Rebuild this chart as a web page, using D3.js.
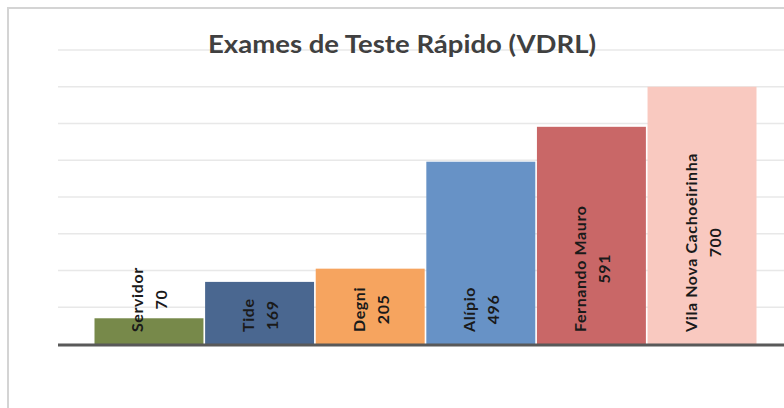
<!DOCTYPE html>
<meta charset="utf-8">
<style>
  body { margin: 0; background: #fff; }
  svg { display: block; }
</style>

<!-- Load d3.js -->
<script src="https://d3js.org/d3.v7.min.js"></script>

<div id="my_dataviz"></div>

<script>

// data
var categories = ["Servidor", "Tide", "Degni", "Alípio", "Fernando Mauro", "Vila Nova Cachoeirinha"];
var values = [70, 169, 205, 496, 591, 700];
var colors = ["#77894a", "#4a6790", "#f6a45f", "#6792c6", "#c96767", "#f9c9c0"];
var yTicks = [100, 200, 300, 400, 500, 600, 700, 800];

var W = 784, H = 408;

var svg = d3.select("#my_dataviz")
  .append("svg")
    .attr("width", W)
    .attr("height", H);

// chart frame (cut off on the right and bottom)
svg.append("rect")
  .attr("x", 8).attr("y", 8)
  .attr("width", W + 20).attr("height", H + 20)
  .attr("fill", "#fff")
  .attr("stroke", "#d4d4d4")
  .attr("stroke-width", 2);

// scales
var x = d3.scaleBand()
  .domain(categories)
  .range([58, 793])
  .paddingInner(0.015)
  .paddingOuter(0.33);

var y = d3.scaleLinear()
  .domain([0, 800])
  .range([344, 50]);

// gridlines
svg.append("g")
  .selectAll("line")
  .data(yTicks)
  .enter()
  .append("line")
    .attr("x1", 58).attr("x2", W)
    .attr("y1", function(d) { return y(d); })
    .attr("y2", function(d) { return y(d); })
    .attr("stroke", "#e8e8e8")
    .attr("stroke-width", 1.5);

// title
svg.append("text")
  .attr("x", 402)
  .attr("y", 53)
  .attr("text-anchor", "middle")
  .attr("textLength", 388)
  .attr("lengthAdjust", "spacingAndGlyphs")
  .style("font-family", "Lato, 'Open Sans', sans-serif")
  .style("font-weight", "bold")
  .style("font-size", "24px")
  .style("fill", "#404040")
  .text("Exames de Teste Rápido (VDRL)");

// bars
var rows = categories.map(function(c, i) { return {name: c, value: values[i], color: colors[i]}; });

svg.append("g")
  .selectAll("rect")
  .data(rows)
  .enter()
  .append("rect")
    .attr("x", function(d) { return x(d.name); })
    .attr("y", function(d) { return y(d.value); })
    .attr("width", x.bandwidth())
    .attr("height", function(d) { return y(0) - y(d.value); })
    .attr("fill", function(d) { return d.color; });

// axis line
svg.append("g")
  .attr("transform", "translate(0," + (y(0) + 1) + ")")
  .call(d3.axisBottom(x).tickSize(0).tickFormat(""))
  .call(function(g) {
    g.select(".domain").attr("d", "M58,0H" + W).attr("stroke", "#595959").attr("stroke-width", 3);
  });

// rotated labels: name + value
var labels = svg.append("g")
  .selectAll("g")
  .data(rows)
  .enter()
  .append("g")
    .attr("transform", function(d) {
      return "translate(" + (x(d.name) + x.bandwidth() / 2) + "," + (y(0) - 12) + ") rotate(-90)";
    })
    .style("font-family", "Lato, 'Open Sans', sans-serif")
    .style("font-weight", "bold")
    .style("font-size", "16px")
    .style("letter-spacing", "0.6px")
    .style("fill", "#1a1a1a");

labels.each(function(d) {
  var g = d3.select(this);
  var t1 = g.append("text")
    .attr("y", -12)
    .attr("dominant-baseline", "central")
    .attr("text-anchor", "middle")
    .text(d.name);
  var len = t1.node().getComputedTextLength();
  t1.attr("x", len / 2);
  g.append("text")
    .attr("x", len / 2)
    .attr("y", 12)
    .attr("dominant-baseline", "central")
    .attr("text-anchor", "middle")
    .text(d.value);
});

</script>
